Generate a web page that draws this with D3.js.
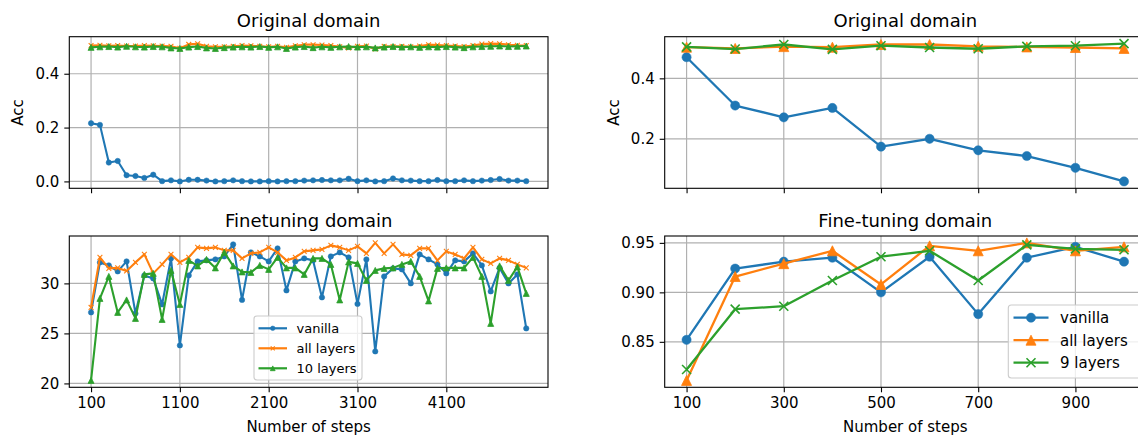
<!DOCTYPE html>
<html>
<head>
<meta charset="utf-8">
<script src="https://cdn.jsdelivr.net/npm/d3@7"></script>
<style>
  html, body { margin: 0; padding: 0; background: #fff; }
  svg { display: block; font-family: "DejaVu Sans", sans-serif; }
</style>
</head>
<body>
<svg id="chart" width="1138" height="436"></svg>
<script>
// ---- data ----
const seriesNames = ["vanilla", "all layers", "10 layers"];
const seriesNamesRight = ["vanilla", "all layers", "9 layers"];
const colors = ["#1f77b4", "#ff7f0e", "#2ca02c"];

// long run: steps 100..5000 every 100
const stepsLong = d3.range(100, 5001, 100);
const origVanillaLong = [0.216,0.210,0.070,0.076,0.023,0.020,0.013,0.025,0.001,0.004,
  0.000,0.006,0.006,0.003,0.000,0.001,0.004,0.001,0.000,0.000,
  0.001,0.000,0.001,0.001,0.003,0.004,0.005,0.004,0.004,0.010,
  0.001,0.004,0.000,0.001,0.011,0.004,0.003,0.001,0.001,0.005,
  0.001,0.001,0.004,0.001,0.003,0.005,0.009,0.003,0.003,0.001];
const origAllLong = [0.505,0.506,0.504,0.505,0.503,0.503,0.505,0.504,0.503,0.502,
  0.495,0.509,0.511,0.502,0.500,0.500,0.502,0.505,0.504,0.502,
  0.500,0.502,0.498,0.504,0.508,0.508,0.507,0.505,0.500,0.496,
  0.502,0.503,0.492,0.502,0.501,0.502,0.500,0.503,0.508,0.507,
  0.505,0.503,0.501,0.505,0.510,0.512,0.511,0.508,0.506,0.505];
const origTenLong = [0.498,0.500,0.501,0.499,0.502,0.500,0.499,0.501,0.500,0.496,
  0.494,0.499,0.501,0.496,0.494,0.497,0.499,0.500,0.499,0.501,
  0.498,0.500,0.494,0.499,0.501,0.497,0.500,0.498,0.500,0.501,
  0.499,0.500,0.496,0.499,0.501,0.499,0.500,0.498,0.500,0.499,
  0.501,0.499,0.497,0.500,0.501,0.502,0.503,0.501,0.502,0.503];

const ftVanillaLong = [27.1,32.1,31.8,31.2,32.2,27.0,30.8,30.5,27.9,32.5,
  23.8,30.8,32.2,32.3,32.4,32.7,33.9,28.35,33.1,32.7,
  32.2,33.5,29.3,32.2,32.5,32.3,28.6,32.7,33.1,32.6,
  27.95,32.4,23.2,30.7,31.5,31.4,30.0,32.9,32.4,31.9,
  31.0,32.3,32.2,33.0,31.8,29.2,31.55,30.0,30.9,25.5];
const ftAllLong = [27.6,32.6,31.5,31.55,31.25,32.1,32.9,31.0,31.9,32.9,
  32.1,32.6,33.6,33.5,33.6,33.3,33.3,32.5,33.0,33.1,
  33.6,33.1,32.3,32.6,33.2,33.3,33.4,33.8,33.6,33.3,
  33.7,33.0,34.05,33.0,33.9,32.9,32.8,33.5,33.5,32.3,
  33.2,32.9,32.5,33.6,32.4,32.0,32.5,32.3,31.9,31.55];
const ftTenLong = [20.3,28.5,30.7,27.1,28.35,26.5,30.9,31.0,26.4,31.3,
  27.9,32.3,31.75,32.4,31.55,33.1,31.75,31.15,31.1,31.8,
  31.4,32.6,31.55,31.55,30.9,32.5,32.5,31.9,28.35,32.15,
  32.0,30.3,31.3,31.5,31.55,31.9,32.2,30.7,28.25,31.5,
  31.55,31.55,31.55,32.6,30.7,26.0,31.75,30.3,31.65,29.0];

// short run: steps 100..1000 every 100
const stepsShort = d3.range(100, 1001, 100);
const origVanillaShort = [0.470,0.310,0.271,0.302,0.174,0.200,0.162,0.143,0.104,0.059];
const origAllShort = [0.503,0.499,0.505,0.503,0.512,0.512,0.506,0.504,0.502,0.499];
const origNineShort = [0.504,0.497,0.512,0.496,0.508,0.502,0.498,0.506,0.508,0.515];

const ftVanillaShort = [0.852,0.924,0.931,0.935,0.900,0.936,0.878,0.935,0.946,0.931];
const ftAllShort = [0.811,0.916,0.929,0.942,0.908,0.947,0.942,0.950,0.942,0.946];
const ftNineShort = [0.822,0.883,0.886,0.912,0.936,0.942,0.912,0.948,0.944,0.943];

// tick values and labels
const xTicksLong = [100, 1100, 2100, 3100, 4100];
const xTicksShort = [100, 300, 500, 700, 900];
const yTicksOrigLong = [0.0, 0.2, 0.4];
const yTicksFtLong = [20, 25, 30];
const yTicksOrigShort = [0.2, 0.4];
const yTicksFtShort = [0.85, 0.90, 0.95];

// ---- drawing ----
const svg = d3.select("#chart");

// matplotlib-like auto limits: 5% margin on each side
function padded(values) {
  const lo = d3.min(values), hi = d3.max(values);
  const p = (hi - lo) * 0.05;
  return [lo - p, hi + p];
}

function markerPath(kind, s) {
  // s = half-size in px
  if (kind === "tri") {
    return `M0,${-s}L${-s},${s}L${s},${s}Z`;
  }
  if (kind === "x") {
    return `M${-s},${-s}L${s},${s}M${-s},${s}L${s},${-s}`;
  }
  return null;
}

function drawMarker(g, kind, x, y, color, size) {
  if (kind === "circle") {
    g.append("circle").attr("cx", x).attr("cy", y).attr("r", size)
      .attr("fill", color).attr("stroke", color).attr("stroke-width", 0.5);
  } else if (kind === "tri") {
    g.append("path").attr("d", markerPath("tri", size))
      .attr("transform", `translate(${x},${y})`)
      .attr("fill", color).attr("stroke", color).attr("stroke-width", 0.8);
  } else if (kind === "x") {
    g.append("path").attr("d", markerPath("x", size))
      .attr("transform", `translate(${x},${y})`)
      .attr("fill", "none").attr("stroke", color).attr("stroke-width", size > 3 ? 1.6 : 1.1);
  }
}

function panel(opts) {
  const { left, right, top, bottom, xDomain, steps, series, xTicks, yTicks, yFmt,
          title, showXLabels, yLabel, markers, markerSizes, lineWidth } = opts;
  const g = svg.append("g");
  const x = d3.scaleLinear().domain(xDomain).range([left, right]);
  const allY = series.flat();
  const y = d3.scaleLinear().domain(padded(allY)).range([bottom, top]);

  // grid
  const grid = g.append("g");
  xTicks.forEach(t => grid.append("line")
    .attr("x1", x(t)).attr("x2", x(t)).attr("y1", top).attr("y2", bottom)
    .attr("stroke", "#b0b0b0").attr("stroke-width", 1.2));
  yTicks.forEach(t => grid.append("line")
    .attr("x1", left).attr("x2", right).attr("y1", y(t)).attr("y2", y(t))
    .attr("stroke", "#b0b0b0").attr("stroke-width", 1.2));

  // axes
  const xAxis = d3.axisBottom(x).tickValues(xTicks).tickSize(5).tickPadding(5)
    .tickFormat(showXLabels ? d3.format("d") : () => "");
  const yAxis = d3.axisLeft(y).tickValues(yTicks).tickSize(5).tickPadding(5).tickFormat(yFmt);
  const gx = g.append("g").attr("transform", `translate(0,${bottom})`).call(xAxis);
  const gy = g.append("g").attr("transform", `translate(${left},0)`).call(yAxis);
  [gx, gy].forEach(a => {
    a.select(".domain").remove();
    a.selectAll(".tick line").attr("stroke", "#000").attr("stroke-width", 1.1);
    a.selectAll(".tick text").attr("fill", "#000").attr("font-size", 15)
      .attr("font-family", "DejaVu Sans");
  });

  // data lines and markers
  series.forEach((vals, si) => {
    const line = d3.line().x((d, i) => x(steps[i])).y(d => y(d));
    g.append("path").datum(vals).attr("d", line)
      .attr("fill", "none").attr("stroke", colors[si]).attr("stroke-width", lineWidth)
      .attr("stroke-linejoin", "round");
    const mg = g.append("g");
    vals.forEach((v, i) => drawMarker(mg, markers[si], x(steps[i]), y(v), colors[si], markerSizes[si]));
  });

  // frame
  g.append("rect").attr("x", left).attr("y", top)
    .attr("width", right - left).attr("height", bottom - top)
    .attr("fill", "none").attr("stroke", "#000").attr("stroke-width", 1.1);

  // title
  svg.append("text").attr("x", (left + right) / 2).attr("y", top - 9.5)
    .attr("text-anchor", "middle").attr("font-size", 18).text(title);

  if (yLabel) {
    svg.append("text")
      .attr("transform", `translate(${left - 46},${(top + bottom) / 2}) rotate(-90)`)
      .attr("text-anchor", "middle").attr("font-size", 15).text(yLabel);
  }
  if (showXLabels) {
    svg.append("text").attr("x", (left + right) / 2).attr("y", bottom + 45)
      .attr("text-anchor", "middle").attr("font-size", 15).text("Number of steps");
  }
  return { x, y };
}

function legend(opts) {
  const { x0, y0, w, h, rowY, names, markers, markerSizes, fontSize, lineX1, lineX2, textX } = opts;
  const g = svg.append("g");
  g.append("rect").attr("x", x0).attr("y", y0).attr("width", w).attr("height", h)
    .attr("rx", 3).attr("fill", "#fff").attr("fill-opacity", 0.8)
    .attr("stroke", "#cccccc").attr("stroke-width", 1.1);
  names.forEach((n, i) => {
    const yy = rowY[i];
    g.append("line").attr("x1", lineX1).attr("x2", lineX2).attr("y1", yy).attr("y2", yy)
      .attr("stroke", colors[i]).attr("stroke-width", 2.2);
    drawMarker(g, markers[i], (lineX1 + lineX2) / 2, yy, colors[i], markerSizes[i]);
    g.append("text").attr("x", textX).attr("y", yy).attr("dy", "0.36em")
      .attr("font-size", fontSize).attr("fill", "#000").text(n);
  });
}

const leftL = 69.3, leftR = 548, rightL = 664.7, rightR = 1145.9;
const topT = 36.7, topB = 188.3, botT = 236, botB = 387.3;
const longDomain = padded(stepsLong);
const shortDomain = padded(stepsShort);

const leftMarkers = ["circle", "x", "tri"];
const leftSizes = [2.7, 2.4, 3.0];
const rightMarkers = ["circle", "tri", "x"];
const rightSizes = [4.6, 5.0, 4.5];

panel({ left: leftL, right: leftR, top: topT, bottom: topB, xDomain: longDomain,
  steps: stepsLong, series: [origVanillaLong, origAllLong, origTenLong],
  xTicks: xTicksLong, yTicks: yTicksOrigLong, yFmt: d3.format(".1f"),
  title: "Original domain", showXLabels: false, yLabel: "Acc",
  markers: leftMarkers, markerSizes: leftSizes, lineWidth: 2.1 });

panel({ left: leftL, right: leftR, top: botT, bottom: botB, xDomain: longDomain,
  steps: stepsLong, series: [ftVanillaLong, ftAllLong, ftTenLong],
  xTicks: xTicksLong, yTicks: yTicksFtLong, yFmt: d3.format("d"),
  title: "Finetuning domain", showXLabels: true, yLabel: null,
  markers: leftMarkers, markerSizes: leftSizes, lineWidth: 2.1 });

panel({ left: rightL, right: rightR, top: topT, bottom: topB, xDomain: shortDomain,
  steps: stepsShort, series: [origVanillaShort, origAllShort, origNineShort],
  xTicks: xTicksShort, yTicks: yTicksOrigShort, yFmt: d3.format(".1f"),
  title: "Original domain", showXLabels: false, yLabel: "Acc",
  markers: rightMarkers, markerSizes: rightSizes, lineWidth: 2.3 });

panel({ left: rightL, right: rightR, top: botT, bottom: botB, xDomain: shortDomain,
  steps: stepsShort, series: [ftVanillaShort, ftAllShort, ftNineShort],
  xTicks: xTicksShort, yTicks: yTicksFtShort, yFmt: d3.format(".2f"),
  title: "Fine-tuning domain", showXLabels: true, yLabel: null,
  markers: rightMarkers, markerSizes: rightSizes, lineWidth: 2.3 });

legend({ x0: 254, y0: 316, w: 108, h: 64, rowY: [328.3, 348.3, 368.3],
  names: seriesNames, markers: leftMarkers, markerSizes: [2.3, 2.0, 2.4], fontSize: 13,
  lineX1: 258.5, lineX2: 287, textX: 296.5 });

legend({ x0: 1008.3, y0: 305, w: 140, h: 73, rowY: [317.7, 340.2, 362.7],
  names: seriesNamesRight, markers: rightMarkers, markerSizes: rightSizes, fontSize: 15,
  lineX1: 1013.5, lineX2: 1048.5, textX: 1060 });
</script>
</body>
</html>
